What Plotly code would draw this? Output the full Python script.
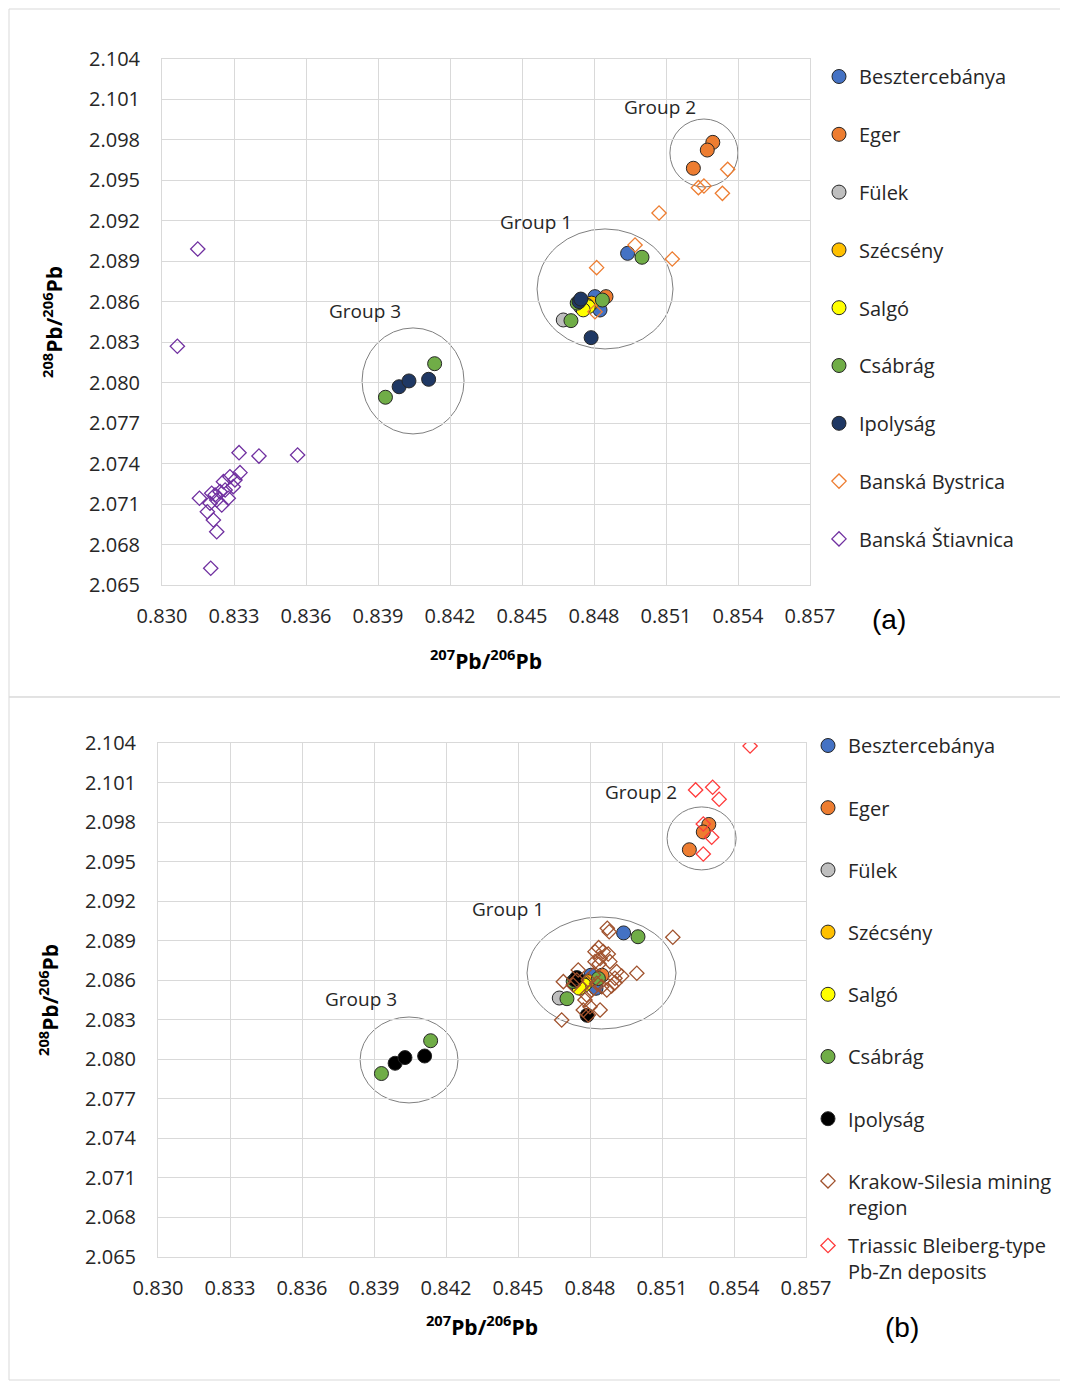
import plotly.graph_objects as go

# ---------------- data ----------------
besz_x = [0.84940, 0.84825, 0.84804]
besz_y = [2.08959, 2.08539, 2.08638]
eger_x = [0.85295, 0.85272, 0.85214, 0.84850]
eger_y = [2.09782, 2.09725, 2.09590, 2.08638]
fulek_x = [0.84672, 0.84745]
fulek_y = [2.08465, 2.08560]
szecseny_x = [0.84790, 0.84770]
szecseny_y = [2.08590, 2.08575]
salgo_x = [0.84776, 0.84755]
salgo_y = [2.08563, 2.08540]
csabrag_x = [0.85000, 0.84835, 0.84704, 0.84730, 0.84136, 0.83931]
csabrag_y = [2.08930, 2.08613, 2.08460, 2.08590, 2.08141, 2.07892]
ipoly_x = [0.83988, 0.84029, 0.84111, 0.84788, 0.84738, 0.84745]
ipoly_y = [2.07970, 2.08013, 2.08025, 2.08334, 2.08601, 2.08620]

bystrica_x = [0.85357, 0.85335, 0.85258, 0.85235, 0.85071, 0.84971, 0.85126, 0.84811, 0.84804]
bystrica_y = [2.09582, 2.09404, 2.09458, 2.09446, 2.09258, 2.09021, 2.08917, 2.08853, 2.08526]

stiavnica_x = [0.83149, 0.83064, 0.83321, 0.83404, 0.83565, 0.83325, 0.83156, 0.83189,
               0.83214, 0.83228, 0.83203, 0.83256, 0.83283, 0.83304, 0.83297, 0.83276,
               0.83249, 0.83221, 0.83207, 0.83228, 0.83263, 0.83242, 0.83200]
stiavnica_y = [2.08991, 2.08270, 2.07481, 2.07456, 2.07464, 2.07333, 2.07143, 2.07043,
               2.06982, 2.06895, 2.06624, 2.07266, 2.07303, 2.07279, 2.07229, 2.07143,
               2.07093, 2.07167, 2.07180, 2.07130, 2.07204, 2.07192, 2.07106]

krakow_x = [0.84872, 0.84880, 0.85145, 0.84836, 0.84855, 0.84876, 0.84821, 0.84842,
            0.84821, 0.84883, 0.84838, 0.84751, 0.84995, 0.84911, 0.84932, 0.84904,
            0.84904, 0.84890, 0.84689, 0.84870, 0.84849, 0.84828, 0.84807, 0.84786,
            0.84779, 0.84800, 0.84772, 0.84842, 0.84793, 0.84682, 0.84745, 0.84730,
            0.84793, 0.84814]
krakow_y = [2.08994, 2.08968, 2.08926, 2.08847, 2.08817, 2.08799, 2.08817, 2.08766,
            2.08741, 2.08741, 2.08723, 2.08678, 2.08653, 2.08665, 2.08632, 2.08615,
            2.08581, 2.08556, 2.08589, 2.08526, 2.08551, 2.08577, 2.08526, 2.08488,
            2.08450, 2.08399, 2.08374, 2.08374, 2.08336, 2.08298, 2.08602, 2.08564,
            2.08602, 2.08640]

triassic_x = [0.85467, 0.85240, 0.85311, 0.85338, 0.85272, 0.85307, 0.85272]
triassic_y = [2.10377, 2.10044, 2.10064, 2.09973, 2.09785, 2.09685, 2.09558]

x_ticks = [0.830, 0.833, 0.836, 0.839, 0.842, 0.845, 0.848, 0.851, 0.854, 0.857]
y_ticks = [2.065, 2.068, 2.071, 2.074, 2.077, 2.080, 2.083, 2.086, 2.089, 2.092,
           2.095, 2.098, 2.101, 2.104]
x_tick_labels = ["0.830", "0.833", "0.836", "0.839", "0.842", "0.845", "0.848",
                 "0.851", "0.854", "0.857"]
y_tick_labels = ["2.065", "2.068", "2.071", "2.074", "2.077", "2.080", "2.083",
                 "2.086", "2.089", "2.092", "2.095", "2.098", "2.101", "2.104"]

# group ellipses: (label, cx, cy, rx, ry, label_x, label_y)
groups_a = [("Group 1", 0.84846, 2.08695, 0.002833, 0.004449, 0.84558, 2.09191),
            ("Group 2", 0.85258, 2.09703, 0.001417, 0.002520, 0.85075, 2.10044),
            ("Group 3", 0.84046, 2.08013, 0.002125, 0.003930, 0.83846, 2.08532)]
groups_b = [("Group 1", 0.84848, 2.08655, 0.003104, 0.004250, 0.84458, 2.09141),
            ("Group 2", 0.85265, 2.09676, 0.001438, 0.002390, 0.85013, 2.10028),
            ("Group 3", 0.84046, 2.07995, 0.002040, 0.003260, 0.83846, 2.08458)]

W, H = 1068, 1385
OFF = 8  # page body margin offset


def px(v):
    return (v - OFF) / W


def py(v):
    return 1 - (v - OFF) / H


FONT = "Open Sans"
TXT = "#262626"

fig = go.Figure()

circle_series = [
    ("Besztercebánya", besz_x, besz_y, "#4472C4", "#4472C4"),
    ("Eger", eger_x, eger_y, "#ED7D31", "#ED7D31"),
    ("Fülek", fulek_x, fulek_y, "#BFBFBF", "#BFBFBF"),
    ("Szécsény", szecseny_x, szecseny_y, "#FFC000", "#FFC000"),
    ("Salgó", salgo_x, salgo_y, "#FFFF00", "#FFFF00"),
    ("Csábrág", csabrag_x, csabrag_y, "#70AD47", "#70AD47"),
    ("Ipolyság", ipoly_x, ipoly_y, "#1F3864", "#000000"),
]

for i, (name, xs, ys, ca, cb) in enumerate(circle_series):
    fig.add_trace(go.Scatter(x=xs, y=ys, mode="markers", name=name,
                             legend="legend", legendgroup="a%d" % i,
                             marker=dict(symbol="circle", size=14, color=ca,
                                         line=dict(color="#262626", width=1)),
                             xaxis="x", yaxis="y"))
fig.add_trace(go.Scatter(x=bystrica_x, y=bystrica_y, mode="markers", name="Banská Bystrica",
                         legend="legend", legendgroup="a7",
                         marker=dict(symbol="diamond-open", size=11, color="#ED7D31",
                                     line=dict(width=1.3)),
                         xaxis="x", yaxis="y"))
fig.add_trace(go.Scatter(x=stiavnica_x, y=stiavnica_y, mode="markers", name="Banská Štiavnica",
                         legend="legend", legendgroup="a8",
                         marker=dict(symbol="diamond-open", size=11, color="#7030A0",
                                     line=dict(width=1.3)),
                         xaxis="x", yaxis="y"))

for i, (name, xs, ys, ca, cb) in enumerate(circle_series):
    fig.add_trace(go.Scatter(x=xs, y=ys, mode="markers", name=name,
                             legend="legend2", legendgroup="b%d" % i,
                             marker=dict(symbol="circle", size=14, color=cb,
                                         line=dict(color="#262626", width=1)),
                             xaxis="x2", yaxis="y2"))
fig.add_trace(go.Scatter(x=krakow_x, y=krakow_y, mode="markers",
                         name="Krakow-Silesia mining<br>region",
                         legend="legend2", legendgroup="b7",
                         marker=dict(symbol="diamond-open", size=11, color="#A0522D",
                                     line=dict(width=1.3)),
                         xaxis="x2", yaxis="y2"))
fig.add_trace(go.Scatter(x=triassic_x, y=triassic_y, mode="markers",
                         name="Triassic Bleiberg-type<br>Pb-Zn deposits",
                         legend="legend3", legendgroup="b8",
                         marker=dict(symbol="diamond-open", size=11, color="#FF3B3B",
                                     line=dict(width=1.3)),
                         xaxis="x2", yaxis="y2"))

shapes = []
annotations = []
for grp, xr, yr in ((groups_a, "x", "y"), (groups_b, "x2", "y2")):
    for (lab, cx, cy, rx, ry, lx, ly) in grp:
        shapes.append(dict(type="circle", xref=xr, yref=yr, x0=cx - rx, x1=cx + rx,
                           y0=cy - ry, y1=cy + ry, line=dict(color="#7F7F7F", width=1),
                           layer="below"))
        annotations.append(dict(text=lab, x=lx, y=ly, xref=xr, yref=yr, showarrow=False,
                                font=dict(family=FONT, size=19, color=TXT)))

# panel borders
for (t, b) in ((9, 697), (697, 1380)):
    shapes.append(dict(type="rect", xref="paper", yref="paper", x0=px(9), x1=px(1066),
                       y0=py(b), y1=py(t), line=dict(color="#D9D9D9", width=1)))

annotations.append(dict(text="(a)", x=px(889), y=py(619), xref="paper", yref="paper",
                        xanchor="center", yanchor="middle", showarrow=False,
                        font=dict(family="Liberation Sans", size=28, color="#000")))
annotations.append(dict(text="(b)", x=px(902), y=py(1327), xref="paper", yref="paper",
                        xanchor="center", yanchor="middle", showarrow=False,
                        font=dict(family="Liberation Sans", size=28, color="#000")))

title_font = dict(family=FONT, size=21, color="#000")
tick_font = dict(family=FONT, size=20, color=TXT)


def xaxis(domain, anchor, standoff):
    return dict(domain=domain, anchor=anchor, range=[0.830, 0.857], tickmode="array",
                tickvals=x_ticks, ticktext=x_tick_labels, showgrid=True, automargin=False,
                gridcolor="#D9D9D9", gridwidth=1, zeroline=False, showline=True, mirror=True,
                linecolor="#D9D9D9", ticks="", tickfont=tick_font, ticklabelstandoff=13,
                title=dict(text="<b><sup>207</sup>Pb/<sup>206</sup>Pb</b>", font=title_font,
                           standoff=standoff))


def yaxis(domain, anchor):
    return dict(domain=domain, anchor=anchor, range=[2.065, 2.104], tickmode="array",
                tickvals=y_ticks, ticktext=y_tick_labels, showgrid=True, automargin=False,
                gridcolor="#D9D9D9", gridwidth=1, zeroline=False, showline=True, mirror=True,
                linecolor="#D9D9D9", ticks="", tickfont=tick_font, ticklabelstandoff=17,
                title=dict(text="<b><sup>208</sup>Pb/<sup>206</sup>Pb</b>", font=title_font,
                           standoff=20))


legend_font = dict(family=FONT, size=20, color=TXT)

fig.update_layout(
    width=W, height=H, margin=dict(l=0, r=0, t=0, b=0, autoexpand=False),
    paper_bgcolor="white", plot_bgcolor="white",
    xaxis=xaxis([px(162), px(810)], "y", 26),
    yaxis=yaxis([py(585), py(59)], "x"),
    xaxis2=xaxis([px(158), px(806)], "y2", 20),
    yaxis2=yaxis([py(1257), py(743)], "x2"),
    shapes=shapes, annotations=annotations,
    legend=dict(x=px(819), y=py(57), xanchor="left", yanchor="top",
                font=legend_font, tracegroupgap=28.8,
                itemwidth=30, bgcolor="rgba(0,0,0,0)"),
    legend2=dict(x=px(808), y=py(726), xanchor="left", yanchor="top",
                 font=legend_font, tracegroupgap=33.2,
                 itemwidth=30, valign="top", bgcolor="rgba(0,0,0,0)"),
    legend3=dict(x=px(808), y=py(1226), xanchor="left", yanchor="top",
                 font=legend_font,
                 itemwidth=30, valign="top", bgcolor="rgba(0,0,0,0)"),
    showlegend=True,
)

fig.write_html("out.html")
